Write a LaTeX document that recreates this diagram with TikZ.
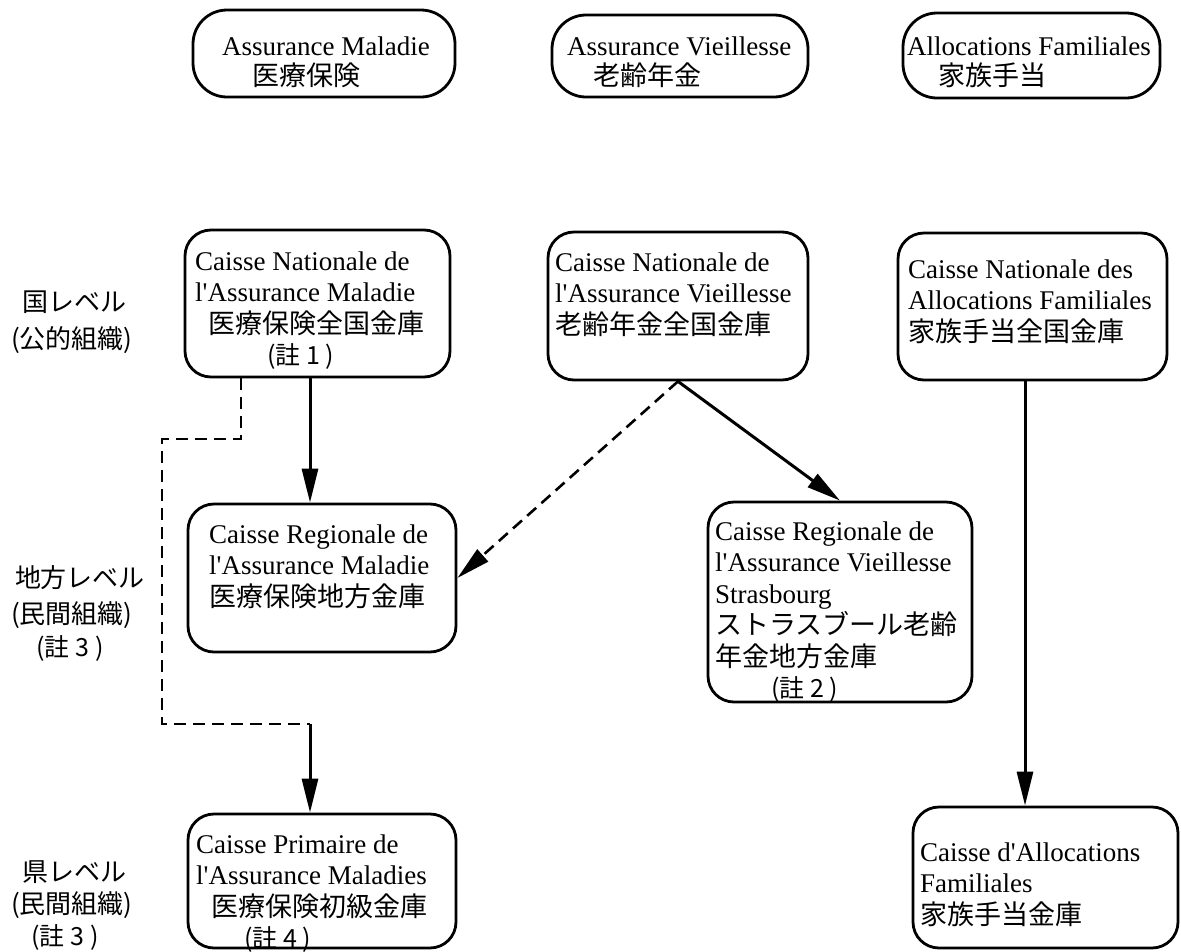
\documentclass[tikz,border=0pt]{standalone}
\usepackage{fontspec}
\setmainfont{Liberation Serif}[Ligatures=TeXOff]
\newfontfamily\cjk{Noto Sans CJK JP}
\usetikzlibrary{arrows.meta}
\newcommand\J[1]{{\cjk\fontsize{27}{31.5}\selectfont #1}}
\newcommand\Nt[1]{{\cjk\fontsize{25}{31.5}\selectfont #1}}
\newcommand\fl{\rule{0pt}{20pt}}
\tikzset{
  box/.style={draw, line width=2.8pt, rounded corners=26pt, inner sep=0pt},
  topbox/.style={box, rounded corners=34pt},
  txt/.style={anchor=north west, inner sep=0pt, align=left, font=\fontsize{27}{31.5}\selectfont},
  lbl/.style={inner sep=0pt, font=\cjk\fontsize{26}{30}\selectfont},
  arr/.style={line width=3pt, -{Triangle[length=34pt,width=16pt]}},
  dsh/.style={line width=2.6pt, dash pattern=on 12pt off 7pt},
}
\begin{document}
\begin{tikzpicture}[x=1pt,y=-1pt]
\useasboundingbox (0,0) rectangle (1181,951);
% top row
\node[topbox, minimum width=262pt, minimum height=87pt] (am) at (324,53.5) {};
\node[topbox, minimum width=256pt, minimum height=82pt] (av) at (680,56) {};
\node[topbox, minimum width=257pt, minimum height=85pt] (af) at (1031.5,55.5) {};
\node[txt, font=\fontsize{27}{30}\selectfont] (tam) at (222,35) {\fl Assurance Maladie\\\hspace*{30pt}\J{医療保険}};
\node[txt, font=\fontsize{27}{30}\selectfont] (tav) at (567,35) {\fl Assurance Vieillesse\\\hspace*{26pt}\J{老齢年金}};
\node[txt, font=\fontsize{27}{30}\selectfont] (taf) at (907,35) {\fl Allocations Familiales\\\hspace*{31pt}\J{家族手当}};
% national
\node[box, minimum width=265pt, minimum height=147pt] (cnam) at (317.5,303.5) {};
\node[box, minimum width=260pt, minimum height=148pt] (cnav) at (678,306) {};
\node[box, minimum width=269pt, minimum height=147pt] (cnaf) at (1032.5,306.5) {};
\node[txt] (tcnam) at (195,250) {\fl Caisse Nationale de\\l'Assurance Maladie\\\hspace*{13pt}\J{医療保険全国金庫}\\\hspace*{72pt}\Nt{(註 1 )}};
\node[txt] (tcnav) at (555,251) {\fl Caisse Nationale de\\l'Assurance Vieillesse\\\J{老齢年金全国金庫}};
\node[txt] (tcnaf) at (908,258) {\fl Caisse Nationale des\\Allocations Familiales\\\J{家族手当全国金庫}};
% regional
\node[box, minimum width=268pt, minimum height=148pt] (cram) at (322,578) {};
\node[box, minimum width=264pt, minimum height=200pt] (crav) at (840,602) {};
\node[txt] (tcram) at (209,523) {\fl Caisse Regionale de\\l'Assurance Maladie\\\J{医療保険地方金庫}};
\node[txt] (tcrav) at (715,520) {\fl Caisse Regionale de\\l'Assurance Vieillesse\\Strasbourg\\\J{ストラスブール老齢}\\\J{年金地方金庫}\\\hspace*{56pt}\Nt{(註 2 )}};
% departmental
\node[box, minimum width=268pt, minimum height=134pt] (cpam) at (322,881) {};
\node[box, minimum width=265pt, minimum height=141pt] (caf) at (1045.5,877.5) {};
\node[txt] (tcpam) at (196,833) {\fl Caisse Primaire de\\l'Assurance Maladies\\\hspace*{15pt}\J{医療保険初級金庫}\\\hspace*{48pt}\Nt{(註 4 )}};
\node[txt] (tcaf) at (920,841) {\fl Caisse d'Allocations\\Familiales\\\J{家族手当金庫}};
% level labels
\node[lbl] (l1a) at (75,302) {国レベル};
\node[lbl] (l1b) at (72,340) {(公的組織)};
\node[lbl] (l2a) at (80,578) {地方レベル};
\node[lbl] (l2b) at (72,615) {(民間組織)};
\node[lbl, font=\cjk\fontsize{25}{30}\selectfont] (l2c) at (70,648) {(註 3 )};
\node[lbl] (l3a) at (75,872) {県レベル};
\node[lbl] (l3b) at (72,905) {(民間組織)};
\node[lbl, font=\cjk\fontsize{25}{30}\selectfont] (l3c) at (65,937) {(註 3 )};
% connectors
\coordinate (ax) at (310,0);
\coordinate (dx) at (241,0);
\coordinate (fx) at (1025,0);
\coordinate (k1) at (241,439);
\coordinate (k2) at (162,439);
\coordinate (k3) at (162,724);
\coordinate (k4) at (310,724);
\draw[arr] (cnam.south -| ax) -- (cram.north -| ax);
\draw[dsh] (cnam.south -| dx) -- (k1) -- (k2) -- (k3) -- (k4);
\draw[arr] (k4) -- (cpam.north -| ax);
\draw[arr] (cnav.south) -- (crav.north);
\draw[arr, dsh] (cnav.south) -- (cram.east);
\draw[arr] (cnaf.south -| fx) -- (caf.north -| fx);
\end{tikzpicture}
\end{document}
